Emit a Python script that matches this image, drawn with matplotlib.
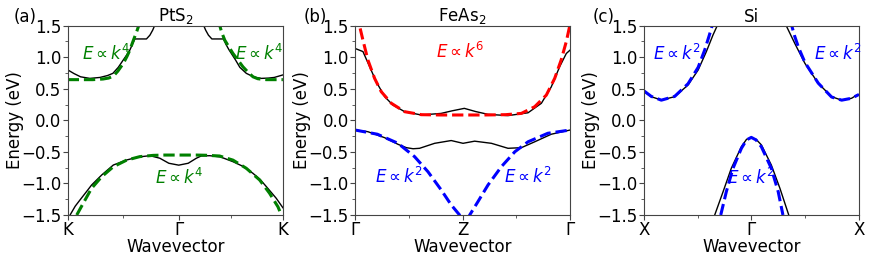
import matplotlib
matplotlib.use("Agg")
import matplotlib.pyplot as plt
import numpy as np

# ---------------- data (k as fraction of path, E in eV) ----------------
# Panel (a) PtS2
a_ticks = [0.0, 0.518, 1.0]
a_ticklabels = ["K", "Γ", "K"]
a_cb_left_k = [0.0, 0.03, 0.06, 0.103, 0.15, 0.185, 0.21, 0.235, 0.258, 0.275, 0.289, 0.30, 0.312, 0.34, 0.366, 0.382, 0.395, 0.405, 0.41]
a_cb_left_E = [0.80, 0.74, 0.69, 0.665, 0.68, 0.71, 0.745, 0.84, 0.956, 1.04, 1.115, 1.2, 1.29, 1.29, 1.29, 1.35, 1.43, 1.51, 1.56]
a_cb_right_k = [0.626, 0.631, 0.641, 0.654, 0.670, 0.696, 0.724, 0.736, 0.75, 0.78, 0.80, 0.83, 0.851, 0.875, 0.90, 0.933, 0.96, 0.98, 1.0]
a_cb_right_E = [1.56, 1.51, 1.43, 1.35, 1.29, 1.29, 1.29, 1.2, 1.115, 0.956, 0.84, 0.745, 0.71, 0.68, 0.665, 0.67, 0.68, 0.70, 0.72]
a_fit_cb_left_k = [0.0, 0.057, 0.117, 0.164, 0.19, 0.212, 0.233, 0.258, 0.275, 0.289, 0.300, 0.312, 0.322, 0.331, 0.34]
a_fit_cb_left_E = [0.645, 0.645, 0.645, 0.655, 0.67, 0.70, 0.78, 0.90, 1.01, 1.115, 1.22, 1.33, 1.42, 1.51, 1.60]
a_fit_cb_right_k = [0.70, 0.706, 0.715, 0.73, 0.748, 0.768, 0.79, 0.814, 0.836, 0.861, 0.883, 0.905, 0.923, 0.96, 1.0]
a_fit_cb_right_E = [1.60, 1.51, 1.40, 1.27, 1.17, 1.06, 0.96, 0.85, 0.77, 0.69, 0.66, 0.65, 0.645, 0.645, 0.645]
a_vb_k = [0.011, 0.035, 0.057, 0.085, 0.111, 0.158, 0.212, 0.274, 0.33, 0.382, 0.428, 0.47, 0.516, 0.56, 0.598, 0.62, 0.66, 0.71, 0.768, 0.815, 0.861, 0.895, 0.923, 0.969, 1.0]
a_vb_E = [-1.5, -1.36, -1.262, -1.14, -1.025, -0.866, -0.708, -0.628, -0.58, -0.56, -0.60, -0.68, -0.71, -0.68, -0.60, -0.565, -0.56, -0.58, -0.655, -0.73, -0.84, -0.94, -1.05, -1.235, -1.385]
a_fit_vb_k = [0.042, 0.072, 0.111, 0.158, 0.212, 0.274, 0.335, 0.397, 0.45, 0.50, 0.55, 0.60, 0.64, 0.706, 0.768, 0.83, 0.892, 0.938, 0.977, 0.993]
a_fit_vb_E = [-1.5, -1.315, -1.077, -0.893, -0.735, -0.63, -0.575, -0.555, -0.55, -0.55, -0.55, -0.55, -0.553, -0.565, -0.63, -0.76, -0.945, -1.155, -1.37, -1.5]

# Panel (b) FeAs2
b_ticks = [0.0, 0.5, 1.0]
b_ticklabels = ["Γ", "Z", "Γ"]
b_cb_k = [0.0, 0.037, 0.068, 0.099, 0.138, 0.176, 0.231, 0.308, 0.40, 0.45, 0.508, 0.56, 0.618, 0.711, 0.804, 0.866, 0.912, 0.951, 0.982, 1.0]
b_cb_E = [1.14, 1.09, 0.85, 0.61, 0.375, 0.243, 0.137, 0.085, 0.11, 0.15, 0.19, 0.14, 0.095, 0.075, 0.12, 0.27, 0.53, 0.85, 1.06, 1.115]
b_fit_cb_k = [0.0, 0.012, 0.022, 0.037, 0.06, 0.091, 0.122, 0.169, 0.231, 0.308, 0.40, 0.50, 0.60, 0.70, 0.773, 0.835, 0.889, 0.928, 0.958, 0.982, 0.997, 1.0]
b_fit_cb_E = [1.70, 1.58, 1.485, 1.27, 0.956, 0.666, 0.454, 0.27, 0.137, 0.09, 0.085, 0.085, 0.085, 0.09, 0.11, 0.216, 0.40, 0.666, 0.956, 1.25, 1.485, 1.52]
b_vb_k = [0.0, 0.06, 0.138, 0.2, 0.239, 0.27, 0.30, 0.37, 0.447, 0.502, 0.556, 0.634, 0.711, 0.773, 0.835, 0.912, 1.0]
b_vb_E = [-0.153, -0.18, -0.275, -0.38, -0.433, -0.45, -0.443, -0.364, -0.32, -0.364, -0.33, -0.364, -0.443, -0.433, -0.34, -0.22, -0.153]
b_fit_vb_left_k = [0.0, 0.104, 0.2, 0.277, 0.339, 0.40, 0.447, 0.486, 0.50]
b_fit_vb_left_E = [-0.153, -0.22, -0.364, -0.576, -0.814, -1.10, -1.34, -1.5, -1.58]
b_fit_vb_right_k = [0.52, 0.533, 0.571, 0.618, 0.68, 0.743, 0.804, 0.896, 1.0]
b_fit_vb_right_E = [-1.58, -1.5, -1.29, -1.025, -0.735, -0.497, -0.34, -0.205, -0.153]

# Panel (c) Si
c_ticks = [0.0, 0.5, 1.0]
c_ticklabels = ["X", "Γ", "X"]
c_cb_left_k = [0.0, 0.035, 0.082, 0.144, 0.206, 0.253, 0.291, 0.322, 0.341, 0.35]
c_cb_left_E = [0.46, 0.375, 0.322, 0.375, 0.56, 0.798, 1.088, 1.353, 1.495, 1.58]
c_cb_right_k = [0.655, 0.663, 0.702, 0.749, 0.811, 0.873, 0.92, 0.966, 0.99, 1.0]
c_cb_right_E = [1.58, 1.495, 1.22, 0.904, 0.587, 0.375, 0.32, 0.35, 0.40, 0.41]
c_fit_cb_left_k = [0.0, 0.035, 0.082, 0.144, 0.206, 0.253, 0.284, 0.305, 0.318, 0.325]
c_fit_cb_left_E = [0.47, 0.38, 0.32, 0.38, 0.58, 0.84, 1.12, 1.35, 1.5, 1.6]
c_fit_cb_right_k = [0.682, 0.688, 0.70, 0.72, 0.749, 0.811, 0.873, 0.92, 0.966, 1.0]
c_fit_cb_right_E = [1.6, 1.5, 1.35, 1.15, 0.92, 0.59, 0.37, 0.32, 0.35, 0.41]
c_vb_k = [0.33, 0.369, 0.407, 0.454, 0.478, 0.5, 0.522, 0.547, 0.593, 0.633, 0.674]
c_vb_E = [-1.5, -1.13, -0.76, -0.417, -0.30, -0.275, -0.30, -0.39, -0.708, -1.077, -1.5]
c_fit_vb_k = [0.358, 0.384, 0.415, 0.454, 0.478, 0.5, 0.522, 0.547, 0.593, 0.625, 0.647]
c_fit_vb_E = [-1.5, -1.13, -0.76, -0.443, -0.31, -0.27, -0.31, -0.42, -0.76, -1.13, -1.5]

titles = ["PtS$_2$", "FeAs$_2$", "Si"]
panel_labels = ["(a)", "(b)", "(c)"]

# ---------------- figure ----------------
W, H = 872, 262
fig = plt.figure(figsize=(W / 100, H / 100), dpi=100)
lefts = [67.7, 355.0, 643.7]
aw = 215.2
top_px, bot_px = 25.7, 215.0
ah = bot_px - top_px
axes = []
for lx in lefts:
    ax = fig.add_axes([lx / W, 1 - bot_px / H, aw / W, ah / H])
    axes.append(ax)

TICK_FS = 12
LAB_FS = 12
TXT_FS = 12
fit_lw = 2.2
band_lw = 1.0

def style(ax, ticks, labels, title, plabel):
    ax.set_xlim(0, 1)
    ax.set_ylim(-1.5, 1.5)
    ax.set_xticks(ticks)
    ax.set_xticklabels(labels)
    minors = [(ticks[0] + ticks[1]) / 2, (ticks[1] + ticks[2]) / 2]
    ax.set_xticks(minors, minor=True)
    ax.set_yticks([-1.5, -1.0, -0.5, 0.0, 0.5, 1.0, 1.5])
    ax.set_yticks(np.arange(-1.5, 1.51, 0.25), minor=True)
    ax.tick_params(labelsize=TICK_FS, pad=1, length=3.5)
    ax.tick_params(which="minor", length=2)
    ax.set_xlabel("Wavevector", fontsize=LAB_FS)
    ax.set_ylabel("Energy (eV)", fontsize=LAB_FS)
    ax.yaxis.set_label_coords(-44.0 / aw, 0.5)
    ax.xaxis.set_label_coords(0.5, -23.5 / ah)
    ax.set_title(title, fontsize=LAB_FS, pad=3)
    for s in ax.spines.values():
        s.set_color("#444444")
    ax.tick_params(colors="#444444", labelcolor="black", which="both")

ax = axes[0]
ax.plot(a_cb_left_k, a_cb_left_E, color="black", lw=band_lw)
ax.plot(a_cb_right_k, a_cb_right_E, color="black", lw=band_lw)
ax.plot(a_vb_k, a_vb_E, color="black", lw=band_lw)
ax.plot(a_fit_cb_left_k, a_fit_cb_left_E, color="green", lw=fit_lw, ls="--")
ax.plot(a_fit_cb_right_k, a_fit_cb_right_E, color="green", lw=fit_lw, ls="--")
ax.plot(a_fit_vb_k, a_fit_vb_E, color="green", lw=fit_lw, ls="--")
ax.text(0.18, 1.06, r"$E\propto k^4$", color="green", fontsize=TXT_FS, ha="center", va="center")
ax.text(0.89, 1.06, r"$E\propto k^4$", color="green", fontsize=TXT_FS, ha="center", va="center")
ax.text(0.52, -0.92, r"$E\propto k^4$", color="green", fontsize=TXT_FS, ha="center", va="center")
style(ax, a_ticks, a_ticklabels, titles[0], panel_labels[0])

ax = axes[1]
ax.plot(b_cb_k, b_cb_E, color="black", lw=band_lw)
ax.plot(b_vb_k, b_vb_E, color="black", lw=band_lw)
ax.plot(b_fit_cb_k, b_fit_cb_E, color="red", lw=fit_lw, ls="--")
ax.plot(b_fit_vb_left_k, b_fit_vb_left_E, color="blue", lw=fit_lw, ls="--")
ax.plot(b_fit_vb_right_k, b_fit_vb_right_E, color="blue", lw=fit_lw, ls="--")
ax.text(0.49, 1.09, r"$E\propto k^6$", color="red", fontsize=TXT_FS, ha="center", va="center")
ax.text(0.204, -0.89, r"$E\propto k^2$", color="blue", fontsize=TXT_FS, ha="center", va="center")
ax.text(0.804, -0.89, r"$E\propto k^2$", color="blue", fontsize=TXT_FS, ha="center", va="center")
style(ax, b_ticks, b_ticklabels, titles[1], panel_labels[1])

ax = axes[2]
ax.plot(c_cb_left_k, c_cb_left_E, color="black", lw=band_lw)
ax.plot(c_cb_right_k, c_cb_right_E, color="black", lw=band_lw)
ax.plot(c_vb_k, c_vb_E, color="black", lw=band_lw)
ax.plot(c_fit_cb_left_k, c_fit_cb_left_E, color="blue", lw=fit_lw, ls="--")
ax.plot(c_fit_cb_right_k, c_fit_cb_right_E, color="blue", lw=fit_lw, ls="--")
ax.plot(c_fit_vb_k, c_fit_vb_E, color="blue", lw=fit_lw, ls="--")
ax.text(0.155, 1.06, r"$E\propto k^2$", color="blue", fontsize=TXT_FS, ha="center", va="center")
ax.text(0.904, 1.06, r"$E\propto k^2$", color="blue", fontsize=TXT_FS, ha="center", va="center")
ax.text(0.50, -0.92, r"$E\propto k^2$", color="blue", fontsize=TXT_FS, ha="center", va="center")
style(ax, c_ticks, c_ticklabels, titles[2], panel_labels[2])

for lx, pl in zip([25, 315, 604], panel_labels):
    fig.text(lx / W, 1 - 17 / H, pl, fontsize=LAB_FS, ha="center", va="center")

fig.savefig("out.png", dpi=100)
